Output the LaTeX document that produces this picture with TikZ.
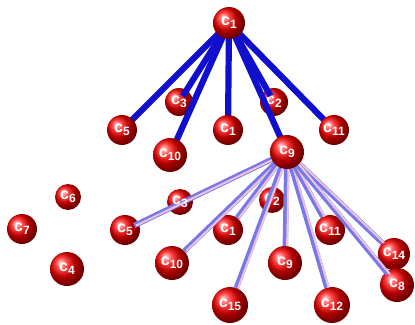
\documentclass[tikz,border=0pt]{standalone}
\usepackage{fontspec}
\setsansfont{Liberation Sans}
\usepackage{tikz}
\newcommand{\cn}[1]{{\sffamily\bfseries\fontsize{16}{16}\selectfont c\raisebox{-3pt}{\fontsize{12}{12}\selectfont #1}}}
\definecolor{tubeblue}{RGB}{15,15,205}
\definecolor{lowblue}{RGB}{120,120,232}
\definecolor{lowpink}{RGB}{236,196,220}

\begin{document}
\begin{tikzpicture}[x=1pt, y=-1pt,
	ball/.style={circle, shading=ball, ball color=red, minimum size=#1, inner sep=0pt, text=white},
	ball/.default=30pt,
	topedge/.style={draw=tubeblue, line width=6.2pt},
	lowedge/.style={draw=lowblue, line width=5.4pt, postaction={draw=lowpink, line width=2pt, transform canvas={xshift=1.8pt}}}]
	\useasboundingbox (0,0) rectangle (415,324);
	% spheres in the back
	\node[ball=26pt] (o6) at (68,197) {\cn{6}};
	\node[ball=30pt] (o7) at (22,229) {\cn{7}};
	\node[ball=34pt] (o4) at (67,269) {\cn{4}};
	\node[ball=26pt] (l3) at (180,202) {};
	\node[ball=26pt] (l2) at (272,200) {\cn{2}};
	\node[ball=32pt] (l14) at (394,254) {\cn{14}};
	\node[ball=30pt] (l5) at (125,230) {\cn{5}};
	\node[ball=34pt] (l10) at (172,263) {\cn{10}};
	\node[ball=30pt] (l1) at (228,230) {\cn{1}};
	\node[ball=30pt] (l11) at (330,230) {\cn{11}};
	\node[ball=34pt] (l9) at (285,263) {\cn{9}};
	\node[ball=36pt] (l15) at (230,305) {\cn{15}};
	\node[ball=36pt] (l12) at (332,305) {\cn{12}};
	\node[ball=28pt] (u3) at (179,102) {\cn{3}};
	\node[ball=28pt] (u2) at (274,102) {\cn{2}};
	% centres of the front spheres
	\coordinate (h1) at (229,23);
	\coordinate (h9) at (287,152);
	\coordinate (p5) at (122,130);
	\coordinate (p1) at (228,130);
	\coordinate (p11) at (334,130);
	\coordinate (p10) at (170,155);
	% lower tubes
	\draw[lowedge, shorten >=-5pt] (h9) -- (l5);
	\draw[lowedge] (h9) -- (l10);
	\draw[lowedge] (h9) -- (l1);
	\draw[lowedge] (h9) -- (l15);
	\draw[lowedge] (h9) -- (l9);
	\draw[lowedge] (h9) -- (l12);
	\draw[lowedge] (h9) -- (l11);
	\draw[lowedge] (h9) -- (l14);
	\node[ball=34pt] (l8) at (397,285) {\cn{8}};
	\draw[lowedge, shorten >=14pt] (h9) -- (l8.center);
	\node[text=white, inner sep=0pt] (l3t) at (l3) {\cn{3}};
	% upper tubes
	\draw[topedge, shorten >=7pt] (h1) -- (u3.center);
	\draw[topedge, shorten >=7pt] (h1) -- (u2.center);
	\draw[topedge] (h1) -- (p5);
	\draw[topedge] (h1) -- (p10);
	\draw[topedge] (h1) -- (p1);
	\draw[topedge] (h1) -- (h9);
	\draw[topedge] (h1) -- (p11);
	% front spheres
	\node[ball=30pt] (u5) at (p5) {\cn{5}};
	\node[ball=30pt] (u1) at (p1) {\cn{1}};
	\node[ball=30pt] (u11) at (p11) {\cn{11}};
	\node[ball=34pt] (u10) at (p10) {\cn{10}};
	\node[ball=34pt] (n9) at (h9) {\cn{9}};
	\node[ball=32pt] (t1) at (h1) {\cn{1}};
\end{tikzpicture}
\end{document}
